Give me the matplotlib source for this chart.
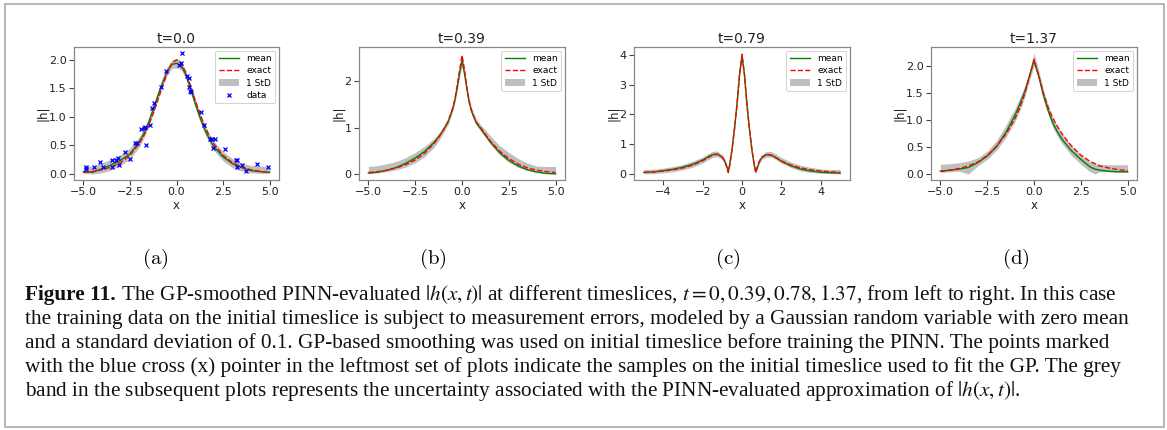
import matplotlib
matplotlib.use("Agg")
import matplotlib.pyplot as plt
from matplotlib.lines import Line2D
from matplotlib.patches import Patch, Rectangle
from matplotlib.ticker import FixedLocator

# ---------------- data ----------------
titles = ["t=0.0", "t=0.39", "t=0.79", "t=1.37"]
sublabels = ["(a)", "(b)", "(c)", "(d)"]

# panel (a)  t = 0.0
xa = [-5, -4.5, -4, -3.5, -3, -2.5, -2, -1.75, -1.5, -1.25, -1, -0.75, -0.5, -0.25, 0,
      0.25, 0.5, 0.75, 1, 1.25, 1.5, 1.75, 2, 2.5, 3, 3.5, 4, 4.5, 5]
exact_a = [0.027, 0.044, 0.073, 0.121, 0.199, 0.326, 0.532, 0.675, 0.851, 1.059, 1.296, 1.545, 1.774, 1.939, 2.0,
           1.939, 1.774, 1.545, 1.296, 1.059, 0.851, 0.675, 0.532, 0.326, 0.199, 0.121, 0.073, 0.044, 0.027]
mean_a = [0.04, 0.03, 0.09, 0.16, 0.24, 0.35, 0.56, 0.71, 0.90, 1.13, 1.37, 1.60, 1.80, 1.92, 1.94,
          1.90, 1.74, 1.50, 1.24, 1.00, 0.79, 0.62, 0.48, 0.30, 0.18, 0.11, 0.06, 0.04, 0.03]
lo_a = [0.01, 0.00, 0.02, 0.07, 0.15, 0.26, 0.47, 0.63, 0.83, 1.06, 1.30, 1.53, 1.73, 1.85, 1.86,
        1.83, 1.67, 1.43, 1.17, 0.93, 0.72, 0.55, 0.41, 0.23, 0.11, 0.05, 0.02, 0.01, 0.01]
hi_a = [0.16, 0.13, 0.19, 0.26, 0.34, 0.45, 0.65, 0.79, 0.98, 1.21, 1.45, 1.68, 1.88, 2.00, 2.03,
        1.98, 1.82, 1.58, 1.32, 1.08, 0.88, 0.71, 0.57, 0.39, 0.27, 0.19, 0.15, 0.14, 0.13]
data_x = [-4.85, -4.85, -4.43, -4.08, -3.96, -3.47, -3.44, -3.26, -3.15, -3.11, -2.77, -2.49, -2.25,
          -2.13, -1.88, -1.77, -1.68, -1.64, -1.41, -1.29, -1.23, -0.82, -0.55, 0.15, 0.22, 0.30,
          0.58, 0.65, 0.65, 0.72, 0.80, 1.33, 1.50, 1.79, 1.88, 1.97, 2.09, 2.58, 3.20, 3.22, 3.26,
          3.49, 3.71, 4.31, 4.89]
data_y = [0.13, 0.08, 0.12, 0.21, 0.13, 0.25, 0.13, 0.25, 0.28, 0.15, 0.38, 0.26, 0.54,
          0.55, 0.79, 0.80, 0.82, 0.50, 0.86, 1.16, 1.25, 1.52, 1.81, 1.91, 1.94, 2.12,
          1.72, 1.69, 1.52, 1.46, 1.44, 1.08, 0.86, 0.62, 0.62, 0.45, 0.61, 0.44, 0.25, 0.13, 0.24,
          0.15, 0.05, 0.17, 0.13]

# panel (b)  t = 0.39
xb = [-5, -4.5, -4, -3.5, -3, -2.5, -2, -1.5, -1.25, -1, -0.75, -0.5, -0.375, -0.25, -0.125, 0,
      0.125, 0.25, 0.375, 0.5, 0.75, 1, 1.25, 1.5, 2, 2.5, 3, 3.5, 4, 4.5, 5]
exact_b = [0.04, 0.06, 0.09, 0.14, 0.21, 0.31, 0.45, 0.66, 0.79, 0.95, 1.13, 1.42, 1.62, 1.93, 2.25, 2.55,
           2.25, 1.90, 1.58, 1.38, 1.12, 1.00, 0.86, 0.72, 0.50, 0.34, 0.22, 0.14, 0.09, 0.06, 0.04]
mean_b = [0.03, 0.05, 0.09, 0.15, 0.24, 0.35, 0.49, 0.68, 0.80, 0.95, 1.12, 1.40, 1.60, 1.88, 2.18, 2.44,
          2.18, 1.86, 1.56, 1.36, 1.11, 0.98, 0.84, 0.70, 0.47, 0.30, 0.18, 0.10, 0.05, 0.02, 0.01]
lo_b = [0.01, 0.03, 0.06, 0.10, 0.16, 0.25, 0.38, 0.58, 0.72, 0.88, 1.06, 1.34, 1.54, 1.80, 2.10, 2.30,
        2.10, 1.78, 1.50, 1.32, 1.06, 0.92, 0.79, 0.65, 0.42, 0.26, 0.15, 0.08, 0.04, 0.03, 0.03]
hi_b = [0.17, 0.19, 0.23, 0.28, 0.36, 0.47, 0.60, 0.77, 0.88, 1.02, 1.18, 1.46, 1.66, 1.95, 2.30, 2.60,
        2.30, 1.94, 1.64, 1.44, 1.20, 1.06, 0.95, 0.83, 0.62, 0.47, 0.34, 0.24, 0.18, 0.17, 0.17]

# panel (c)  t = 0.79
xc = [-5, -4.5, -4, -3.5, -3, -2.5, -2, -1.75, -1.5, -1.25, -1, -0.875, -0.75, -0.7, -0.625, -0.5,
      -0.375, -0.25, -0.125, 0, 0.125, 0.25, 0.375, 0.5, 0.625, 0.7, 0.75, 0.875, 1, 1.25, 1.5,
      1.75, 2, 2.5, 3, 3.5, 4, 4.5, 5]
exact_c = [0.05, 0.07, 0.10, 0.14, 0.20, 0.30, 0.44, 0.54, 0.63, 0.66, 0.56, 0.42, 0.18, 0.05, 0.30, 0.85,
           1.55, 2.35, 3.35, 4.02, 3.35, 2.35, 1.55, 0.85, 0.30, 0.05, 0.18, 0.42, 0.56, 0.66, 0.63,
           0.54, 0.44, 0.30, 0.20, 0.14, 0.10, 0.07, 0.05]
mean_c = [0.05, 0.07, 0.11, 0.16, 0.23, 0.33, 0.47, 0.57, 0.65, 0.67, 0.56, 0.42, 0.20, 0.08, 0.32, 0.88,
          1.58, 2.38, 3.35, 3.96, 3.33, 2.33, 1.52, 0.82, 0.28, 0.07, 0.16, 0.40, 0.55, 0.65, 0.63,
          0.54, 0.43, 0.27, 0.16, 0.10, 0.06, 0.04, 0.03]
lo_c = [0.00, 0.01, 0.04, 0.08, 0.14, 0.23, 0.37, 0.47, 0.56, 0.58, 0.48, 0.34, 0.12, 0.02, 0.24, 0.80,
        1.50, 2.30, 3.27, 3.86, 3.25, 2.25, 1.45, 0.75, 0.21, 0.02, 0.10, 0.33, 0.48, 0.57, 0.56,
        0.47, 0.36, 0.21, 0.10, 0.05, 0.02, 0.01, 0.00]
hi_c = [0.15, 0.16, 0.20, 0.25, 0.32, 0.43, 0.57, 0.67, 0.76, 0.77, 0.64, 0.50, 0.28, 0.14, 0.40, 0.96,
        1.66, 2.46, 3.43, 4.06, 3.41, 2.41, 1.60, 0.90, 0.36, 0.13, 0.24, 0.48, 0.63, 0.76, 0.75,
        0.66, 0.55, 0.40, 0.29, 0.22, 0.17, 0.15, 0.15]

# panel (d)  t = 1.37
xd = [-5, -4.5, -4, -3.5, -3, -2.5, -2, -1.5, -1.25, -1, -0.75, -0.5, -0.25, 0,
      0.25, 0.5, 0.75, 1, 1.25, 1.5, 2, 2.5, 3, 3.25, 3.5, 4, 4.5, 5]
exact_d = [0.05, 0.07, 0.10, 0.15, 0.22, 0.34, 0.51, 0.74, 0.88, 1.04, 1.23, 1.48, 1.80, 2.12,
           1.82, 1.50, 1.24, 1.04, 0.88, 0.74, 0.52, 0.35, 0.23, 0.19, 0.15, 0.11, 0.08, 0.06]
mean_d = [0.05, 0.07, 0.09, 0.12, 0.21, 0.33, 0.51, 0.77, 0.93, 1.10, 1.30, 1.52, 1.80, 2.10,
          1.82, 1.46, 1.18, 0.95, 0.78, 0.64, 0.43, 0.27, 0.13, 0.09, 0.07, 0.05, 0.04, 0.04]
lo_d = [0.03, 0.04, 0.05, 0.00, 0.15, 0.27, 0.44, 0.68, 0.83, 0.98, 1.18, 1.42, 1.72, 2.00,
        1.74, 1.38, 1.10, 0.86, 0.70, 0.56, 0.34, 0.18, 0.04, 0.00, 0.04, 0.04, 0.03, 0.03]
hi_d = [0.18, 0.19, 0.21, 0.24, 0.30, 0.42, 0.62, 0.90, 1.07, 1.22, 1.42, 1.62, 1.90, 2.24,
        1.92, 1.56, 1.28, 1.04, 0.88, 0.74, 0.52, 0.35, 0.22, 0.19, 0.18, 0.17, 0.17, 0.17]

yticks = [[0.0, 0.5, 1.0, 1.5, 2.0], [0, 1, 2], [0, 1, 2, 3, 4], [0.0, 0.5, 1.0, 1.5, 2.0]]
xticks = [[-5.0, -2.5, 0.0, 2.5, 5.0], [-5.0, -2.5, 0.0, 2.5, 5.0], [-4, -2, 0, 2, 4],
          [-5.0, -2.5, 0.0, 2.5, 5.0]]

caption_lines = [
    " The GP-smoothed PINN-evaluated $|h(x,t)|$ at different timeslices, $t=0, 0.39, 0.78, 1.37$, from left to right. In this case",
    "the training data on the initial timeslice is subject to measurement errors, modeled by a Gaussian random variable with zero mean",
    "and a standard deviation of 0.1. GP-based smoothing was used on initial timeslice before training the PINN. The points marked",
    "with the blue cross (x) pointer in the leftmost set of plots indicate the samples on the initial timeslice used to fit the GP. The grey",
    "band in the subsequent plots represents the uncertainty associated with the PINN-evaluated approximation of $|h(x,t)|$.",
]

# ---------------- figure ----------------
plt.rcParams["mathtext.fontset"] = "stix"
W, H = 1167, 430
fig = plt.figure(figsize=(W / 100, H / 100), dpi=100)


def ax_at(l, r, t, b):
    return fig.add_axes([l / W, 1 - b / H, (r - l) / W, (b - t) / H])


boxes = [(74, 279), (359, 565), (634, 850), (931, 1137)]
panels = [
    (xa, exact_a, mean_a, lo_a, hi_a),
    (xb, exact_b, mean_b, lo_b, hi_b),
    (xc, exact_c, mean_c, lo_c, hi_c),
    (xd, exact_d, mean_d, lo_d, hi_d),
]
sub_cx = [155, 433, 728, 1016]

spine_col = "#888888"
for i, ((l, r), (xs, ex, mn, lo, hi)) in enumerate(zip(boxes, panels)):
    ax = ax_at(l, r, 47, 180)
    ax.fill_between(xs, lo, hi, color="grey", alpha=0.5, linewidth=0)
    ax.plot(xs, mn, color="green", lw=1.0)
    ax.plot(xs, ex, color="red", lw=1.0, ls="--")
    handles = [Line2D([], [], color="green", lw=1.0),
               Line2D([], [], color="red", lw=1.0, ls="--"),
               Patch(facecolor="grey", alpha=0.5, linewidth=0)]
    labels = ["mean", "exact", "1 StD"]
    if i == 0:
        ax.plot(data_x, data_y, ls="none", marker="x", color="blue", ms=3.2, mew=0.9)
        handles.append(Line2D([], [], ls="none", marker="x", color="blue", ms=3.2, mew=0.9))
        labels.append("data")
    ax.set_xlim(-5.5, 5.5)
    ax.xaxis.set_major_locator(FixedLocator(xticks[i]))
    ax.yaxis.set_major_locator(FixedLocator(yticks[i]))
    if i in (0, 3):
        ax.set_yticklabels([f"{v:.1f}" for v in yticks[i]])
        ax.set_xticklabels([f"{v:.1f}".replace("-", "\u2212") for v in xticks[i]])
    elif i == 1:
        ax.set_xticklabels([f"{v:.1f}".replace("-", "\u2212") for v in xticks[i]])
    ax.tick_params(labelsize=8, length=3.5, width=0.8, color="#444444", pad=1.8, labelcolor="#222222")
    for s in ax.spines.values():
        s.set_color(spine_col)
        s.set_linewidth(0.9)
    ax.set_title(titles[i], fontsize=10, pad=3, color="#222222")
    ax.set_xlabel("x", fontsize=8.5, labelpad=1, color="#222222")
    ax.set_ylabel("|h|", fontsize=8.5, labelpad=0, color="#222222")
    leg = ax.legend(handles, labels, loc="upper right", fontsize=6.5, handlelength=2.2,
                    borderaxespad=0.4, labelspacing=0.35, handletextpad=0.8, framealpha=1,
                    fancybox=True)
    leg.get_frame().set_edgecolor("#cccccc")
    leg.get_frame().set_linewidth(0.6)
    fig.text(sub_cx[i] / W, 1 - 259 / H, r"$\mathrm{" + sublabels[i] + "}$", ha="center",
             va="center", fontsize=15, math_fontfamily="cm")

# caption
renderer = fig.canvas.get_renderer()
ref = fig.text(0, 0, caption_lines[1], fontsize=14, family="Liberation Serif")
w = ref.get_window_extent(renderer).width
ref.remove()
fs = 14 * 1110 / w

x0 = 25
baselines = [300, 324, 348, 372, 396]
t_bold = fig.text(x0 / W, 1 - baselines[0] / H, "Figure 11.", fontsize=fs, family="Liberation Serif",
                  weight="bold", va="baseline", ha="left", color="#111111")
bw = t_bold.get_window_extent(renderer).width
fig.text((x0 + bw) / W, 1 - baselines[0] / H, caption_lines[0], fontsize=fs, family="Liberation Serif",
         va="baseline", ha="left", color="#111111")
for k in range(1, 5):
    fig.text(x0 / W, 1 - baselines[k] / H, caption_lines[k], fontsize=fs, family="Liberation Serif",
             va="baseline", ha="left", color="#111111")

fig.add_artist(Rectangle((5 / W, 1 - 427 / H), (1164 - 5) / W, (427 - 4) / H, transform=fig.transFigure,
                         fill=False, edgecolor="#aaaaaa", linewidth=1.2))

fig.savefig("out.png", dpi=100)
